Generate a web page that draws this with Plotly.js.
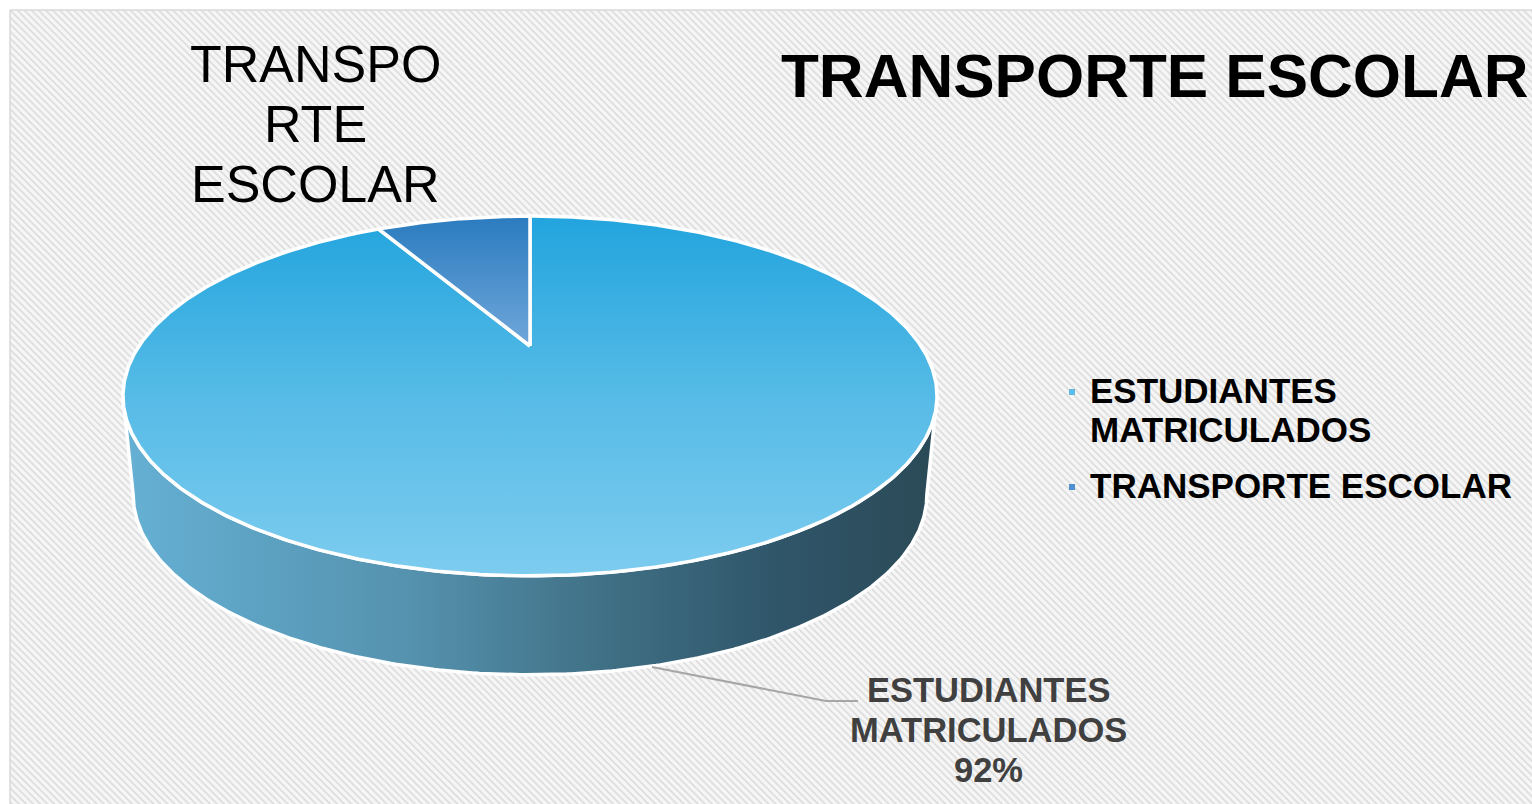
<!DOCTYPE html>
<html><head><meta charset="utf-8">
<script src="https://cdn.plot.ly/plotly-3.0.1.min.js"></script>
<style>html,body{margin:0;padding:0;background:#fff;}#chart{width:1532px;height:804px;}</style>
</head><body><div id="chart"></div>
<script>
// ---- data ----
const categories = ['ESTUDIANTES MATRICULADOS', 'TRANSPORTE ESCOLAR'];
const values = [92, 8];
const legendLines = [['ESTUDIANTES', 'MATRICULADOS'], ['TRANSPORTE ESCOLAR']];
const mainLabelLines = ['ESTUDIANTES', 'MATRICULADOS'];
const transportLabelLines = ['TRANSPO', 'RTE', 'ESCOLAR'];
const chartTitle = 'TRANSPORTE ESCOLAR';

// ---- styles ----
const topScales = [
  [[0, '#22a4de'], [0.5, '#56bbe6'], [1, '#7dccef']],
  [[0, '#2a7bbf'], [1, '#70a7da']]
];
const wallScale = [[0, '#65b0d4'], [0.35, '#5592ae'], [0.6, '#3f6f84'], [0.8, '#30566a'], [1, '#2b4a57']];
const legendColors = ['#5bbde6', '#4f90d0'];
const FONT = 'Liberation Sans, Arial, sans-serif';

// ---- 3D pie geometry (perspective ellipse) ----
const G = {cx: 530, cy: 346, a: 391, b: 166, p: -0.2778, depth: 99, shrink: 0.975};
function proj(phi, down) {
  const u = Math.sin(phi), v = -Math.cos(phi);
  const w = 1 + G.p * v;
  let x = G.a * u / w, y = G.b * v / w;
  if (down) { x *= G.shrink; y += G.depth; }
  return [G.cx + x, G.cy + y];
}
function arc(a0, a1, down) {
  const pts = [];
  const n = Math.max(2, Math.ceil(Math.abs(a1 - a0) / (Math.PI / 360)));
  for (let i = 0; i <= n; i++) pts.push(proj(a0 + (a1 - a0) * i / n, down));
  return pts;
}

const total = values.reduce((s, v) => s + v, 0);
const traces = [];

// background panel with diagonal stripes
traces.push({
  type: 'scatter', mode: 'lines', x: [10, 1540, 1540, 10, 10], y: [10, 10, 810, 810, 10],
  fill: 'toself', line: {color: '#d9d9d9', width: 1.5},
  fillpattern: {shape: '\\', size: 5, solidity: 0.3, fgcolor: '#dadada', bgcolor: '#f6f6f6'},
  hoverinfo: 'skip', showlegend: false
});

// slice angles
let cum = 0;
const slices = values.map((v, i) => {
  const a0 = cum / total * 2 * Math.PI;
  cum += v;
  const a1 = cum / total * 2 * Math.PI;
  return {i, a0, a1};
});

// side wall (front half)
const wallA = Math.acos(G.p);          // right extreme
const wallB = 2 * Math.PI - wallA;     // left extreme
slices.forEach(s => {
  const lo = Math.max(s.a0, wallA), hi = Math.min(s.a1, wallB);
  if (hi <= lo) return;
  const top = arc(lo, hi, false), bot = arc(hi, lo, true);
  const pts = top.concat(bot); pts.push(top[0]);
  traces.push({
    type: 'scatter', mode: 'lines', x: pts.map(p => p[0]), y: pts.map(p => p[1]),
    fill: 'toself', line: {color: '#ffffff', width: 3.5},
    fillgradient: {type: 'horizontal', colorscale: wallScale, start: 125, stop: 935},
    hoverinfo: 'skip', showlegend: false, name: categories[s.i]
  });
});

// top faces
slices.forEach(s => {
  const pts = [[G.cx, G.cy]].concat(arc(s.a0, s.a1, false));
  pts.push([G.cx, G.cy]);
  const ys = pts.map(p => p[1]);
  traces.push({
    type: 'scatter', mode: 'lines', x: pts.map(p => p[0]), y: ys,
    fill: 'toself', line: {color: '#ffffff', width: 3.5},
    fillgradient: {type: 'vertical', colorscale: topScales[s.i], start: Math.min(...ys), stop: Math.max(...ys)},
    hoverinfo: 'skip', showlegend: false, name: categories[s.i]
  });
});

// ---- annotations ----
const ann = [];
function line(text, x, baseline, size, opts) {
  ann.push(Object.assign({
    text: text, x: x, y: baseline - 0.35 * size, xref: 'x', yref: 'y',
    showarrow: false, xanchor: 'center', yanchor: 'middle',
    font: {family: FONT, size: size, color: '#000000'}
  }, opts || {}));
}
line('<b>' + chartTitle + '</b>', 779, 97, 62, {xanchor: 'left'});
transportLabelLines.forEach((t, k) => line(t, 315, 82 + 60 * k, 52));
const pct = Math.round(values[0] / total * 100) + '%';
mainLabelLines.concat([pct]).forEach((t, k) =>
  line('<b>' + t + '</b>', 988, 702 + 40 * k, 34.5, {font: {family: FONT, size: 34.5, color: '#404040'}}));
// legend text
line('<b>' + legendLines[0][0] + '</b>', 1088, 403, 35, {xanchor: 'left'});
line('<b>' + legendLines[0][1] + '</b>', 1088, 442, 35, {xanchor: 'left'});
line('<b>' + legendLines[1][0] + '</b>', 1088, 498, 35, {xanchor: 'left'});

const shapes = [
  {type: 'rect', xref: 'x', yref: 'y', x0: 1048, x1: 1540, y0: 362, y1: 552,
   fillcolor: 'rgba(255,255,255,0.5)', line: {width: 0}, layer: 'below'},
  {type: 'rect', xref: 'x', yref: 'y', x0: 1069, x1: 1075, y0: 389, y1: 395,
   fillcolor: legendColors[0], line: {width: 0}},
  {type: 'rect', xref: 'x', yref: 'y', x0: 1069, x1: 1075, y0: 484, y1: 490,
   fillcolor: legendColors[1], line: {width: 0}},
  {type: 'path', xref: 'x', yref: 'y', path: 'M652,667 L826,701 L858,701',
   line: {color: '#a6a6a6', width: 2}}
];

const layout = {
  width: 1532, height: 804, margin: {l: 0, r: 0, t: 0, b: 0},
  paper_bgcolor: '#ffffff', plot_bgcolor: 'rgba(0,0,0,0)',
  xaxis: {range: [0, 1532], visible: false, fixedrange: true},
  yaxis: {range: [804, 0], visible: false, fixedrange: true},
  showlegend: false, hovermode: false,
  annotations: ann, shapes: shapes
};
Plotly.newPlot('chart', traces, layout, {displayModeBar: false, staticPlot: true});
</script>
</body></html>
